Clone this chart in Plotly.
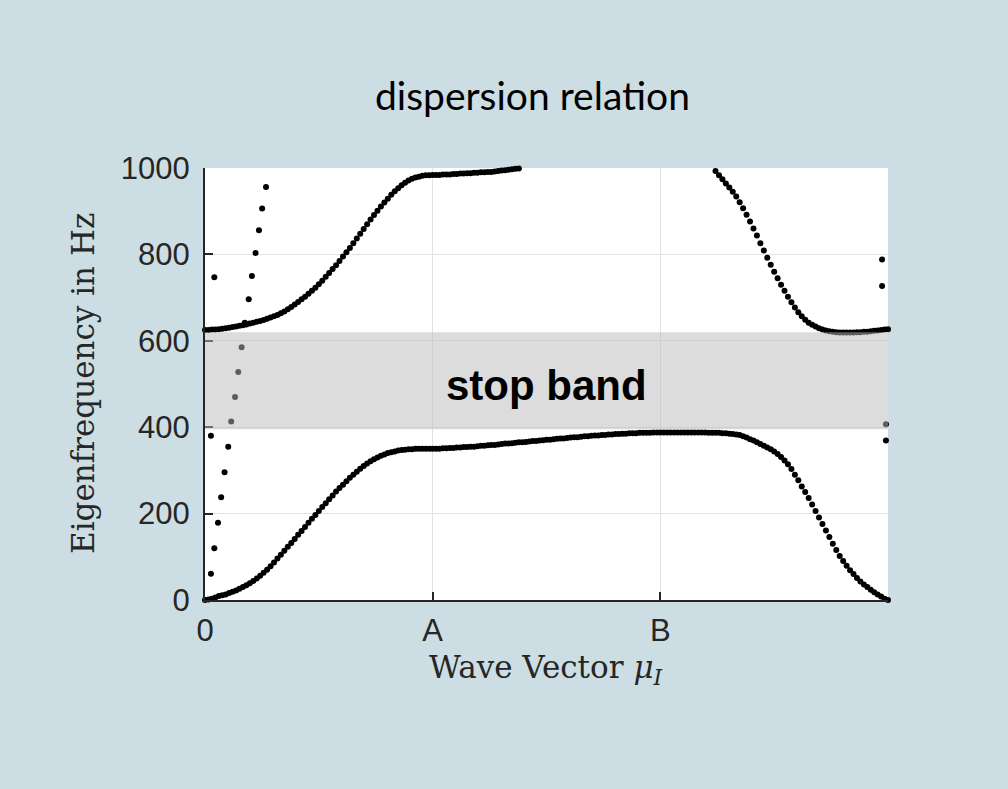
import numpy as np
import plotly.graph_objects as go

# ---------------- data ----------------
samples_per_segment = 66          # samples between two symmetry points
tick_positions = [0, 1, 2]
tick_labels = ["0", "A", "B"]
stop_band_hz = [395, 620]

# lower (acoustic) band: 0 -> A -> B -> end
lower_seg1 = [0, 1, 3, 6, 9, 11, 13, 16, 19, 22, 26, 30, 34, 39, 44, 50, 56, 63, 70, 78,
              87, 96, 105, 114, 123, 132, 141, 151, 160, 169, 179, 188, 197, 206, 215, 224,
              233, 242, 251, 259, 267, 275, 283, 290, 297, 304, 310, 316, 321, 326, 330, 334,
              337, 340, 342, 344, 346, 347, 348, 349, 349, 350, 350, 350, 350, 350, 350]
lower_seg2 = [350, 350, 351, 351, 352, 352, 353, 353, 354, 354, 355, 355, 356, 357, 357, 358,
              359, 359, 360, 361, 362, 362, 363, 364, 365, 365, 366, 367, 368, 368, 369, 370,
              371, 371, 372, 373, 374, 374, 375, 376, 377, 377, 378, 379, 379, 380, 381, 381,
              382, 382, 383, 383, 384, 384, 385, 385, 386, 386, 386, 387, 387, 387, 387, 388,
              388, 388]
lower_seg3 = [388, 388, 388, 388, 388, 388, 388, 388, 388, 388, 388, 388, 388, 387, 387, 387,
              387, 386, 386, 385, 384, 383, 382, 379, 376, 372, 369, 365, 361, 357, 353, 349,
              344, 338, 331, 323, 314, 303, 290, 277, 263, 250, 236, 221, 206, 191, 176, 161,
              146, 130, 116, 102, 90, 79, 69, 60, 51, 43, 36, 30, 24, 18, 13, 8, 3, 0]

# upper (optical) band, off-scale samples (>1000 Hz) are missing
upper_seg1 = [625, 625, 626, 626, 627, 628, 629, 630, 632, 633, 635, 636, 638, 640, 642, 644,
              646, 648, 651, 654, 657, 660, 664, 668, 673, 678, 684, 690, 696, 702, 709, 716,
              723, 731, 739, 748, 757, 766, 775, 785, 795, 805, 815, 826, 837, 848, 859, 870,
              881, 891, 901, 911, 920, 929, 938, 946, 953, 960, 966, 971, 975, 978, 980, 982,
              983, 983, 984]
upper_seg2_visible = [984, 984, 985, 985, 985, 986, 986, 987, 987, 988, 988, 989, 989, 990,
                      990, 991, 991, 992, 993, 994, 995, 996, 997, 998, 999, 1001, 1003]
upper_seg3_visible = [1002, 993, 983, 974, 964, 955, 945, 934, 921, 907, 892, 876, 860, 844,
                      826, 809, 792, 776, 760, 745, 730, 716, 702, 689, 677, 666, 657, 649,
                      642, 637, 633, 629, 626, 624, 622, 621, 620, 619, 619, 619, 619, 619,
                      620, 620, 621, 621, 622, 623, 624, 625, 626, 627]

# steep branch near the origin
steep_x = [0.026, 0.041, 0.057, 0.071, 0.086, 0.102, 0.115, 0.132, 0.146, 0.161, 0.175,
           0.192, 0.206, 0.222, 0.237, 0.251, 0.268, 0.281]
steep_hz = [61, 120, 179, 238, 296, 355, 413, 470, 528, 585, 642, 696, 750, 803, 856, 906,
            956, 1004]

# isolated samples
single_x = [0.026, 0.041, 2.974, 2.974, 2.991, 2.991]
single_hz = [380, 747, 788, 727, 407, 369]

# ---------------- assemble ----------------
lower_hz = lower_seg1 + lower_seg2 + lower_seg3
n_total = len(lower_hz)
missing = n_total - len(upper_seg1) - len(upper_seg2_visible) - len(upper_seg3_visible)
upper_hz = upper_seg1 + upper_seg2_visible + [None] * missing + upper_seg3_visible
wave_vector = np.arange(n_total) / samples_per_segment

xs = list(wave_vector) + list(wave_vector) + steep_x + single_x
ys = lower_hz + upper_hz + steep_hz + single_hz

fig = go.Figure()
fig.add_trace(go.Scatter(
    x=xs, y=ys, mode="markers",
    marker=dict(size=6, color="black", line=dict(width=0)),
    cliponaxis=False, showlegend=False, hoverinfo="skip"))

fig.add_shape(type="rect", xref="x", yref="y", x0=0, x1=3,
              y0=stop_band_hz[0], y1=stop_band_hz[1],
              fillcolor="rgba(185,185,185,0.5)", line=dict(width=0), layer="above")

fig.add_annotation(x=1.5, y=sum(stop_band_hz) / 2 - 10, xref="x", yref="y",
                   xanchor="center", yanchor="middle",
                   text="<b>stop band</b>", showarrow=False,
                   font=dict(family="Liberation Sans, Arial", size=42, color="black"))

W, H = 1008, 789
L, R, T, B = 205, 120, 168, 189
pw, ph = W - L - R, H - T - B

def px_to_paper(px, py):
    return (px - L) / pw, (H - py - B) / ph

tx, ty = px_to_paper(532, 95)
fig.add_annotation(x=tx, y=ty, xref="paper", yref="paper", text="dispersion relation",
                   xanchor="center", yanchor="middle",
                   showarrow=False, font=dict(family="Lato", size=39, color="black"))

lx, ly = px_to_paper(83, 384)
fig.add_annotation(x=lx, y=ly, xref="paper", yref="paper", text="Eigenfrequency in Hz",
                   xanchor="center", yanchor="middle",
                   textangle=-90, showarrow=False,
                   font=dict(family="DejaVu Serif", size=31, color="#262626"))

xx, xy = px_to_paper(546, 669)
fig.add_annotation(x=xx, y=xy, xref="paper", yref="paper",
                   xanchor="center", yanchor="middle",
                   text="Wave Vector <i>μ</i><sub><i>I</i></sub>",
                   showarrow=False, font=dict(family="DejaVu Serif", size=31, color="#262626"))

axis_font = dict(family="Liberation Sans, Arial", size=31, color="#262626")
fig.update_layout(
    width=W, height=H,
    margin=dict(l=L, r=R, t=T, b=B, pad=0),
    paper_bgcolor="rgb(204,222,228)",
    plot_bgcolor="white",
    xaxis=dict(range=[0, 3], tickvals=tick_positions, ticktext=tick_labels,
               showgrid=True, gridcolor="#e2e2e2", gridwidth=1,
               showline=True, linecolor="#262626", linewidth=2,
               ticks="inside", ticklen=8, tickwidth=2, tickcolor="#262626",
               tickfont=axis_font, ticklabelstandoff=2, zeroline=False),
    yaxis=dict(range=[0, 1000], tickvals=[0, 200, 400, 600, 800, 1000],
               showgrid=True, gridcolor="#e2e2e2", gridwidth=1,
               showline=True, linecolor="#262626", linewidth=2,
               ticks="inside", ticklen=8, tickwidth=2, tickcolor="#262626",
               tickfont=axis_font, ticklabelstandoff=7, zeroline=False),
)

fig.write_html("out.html")
